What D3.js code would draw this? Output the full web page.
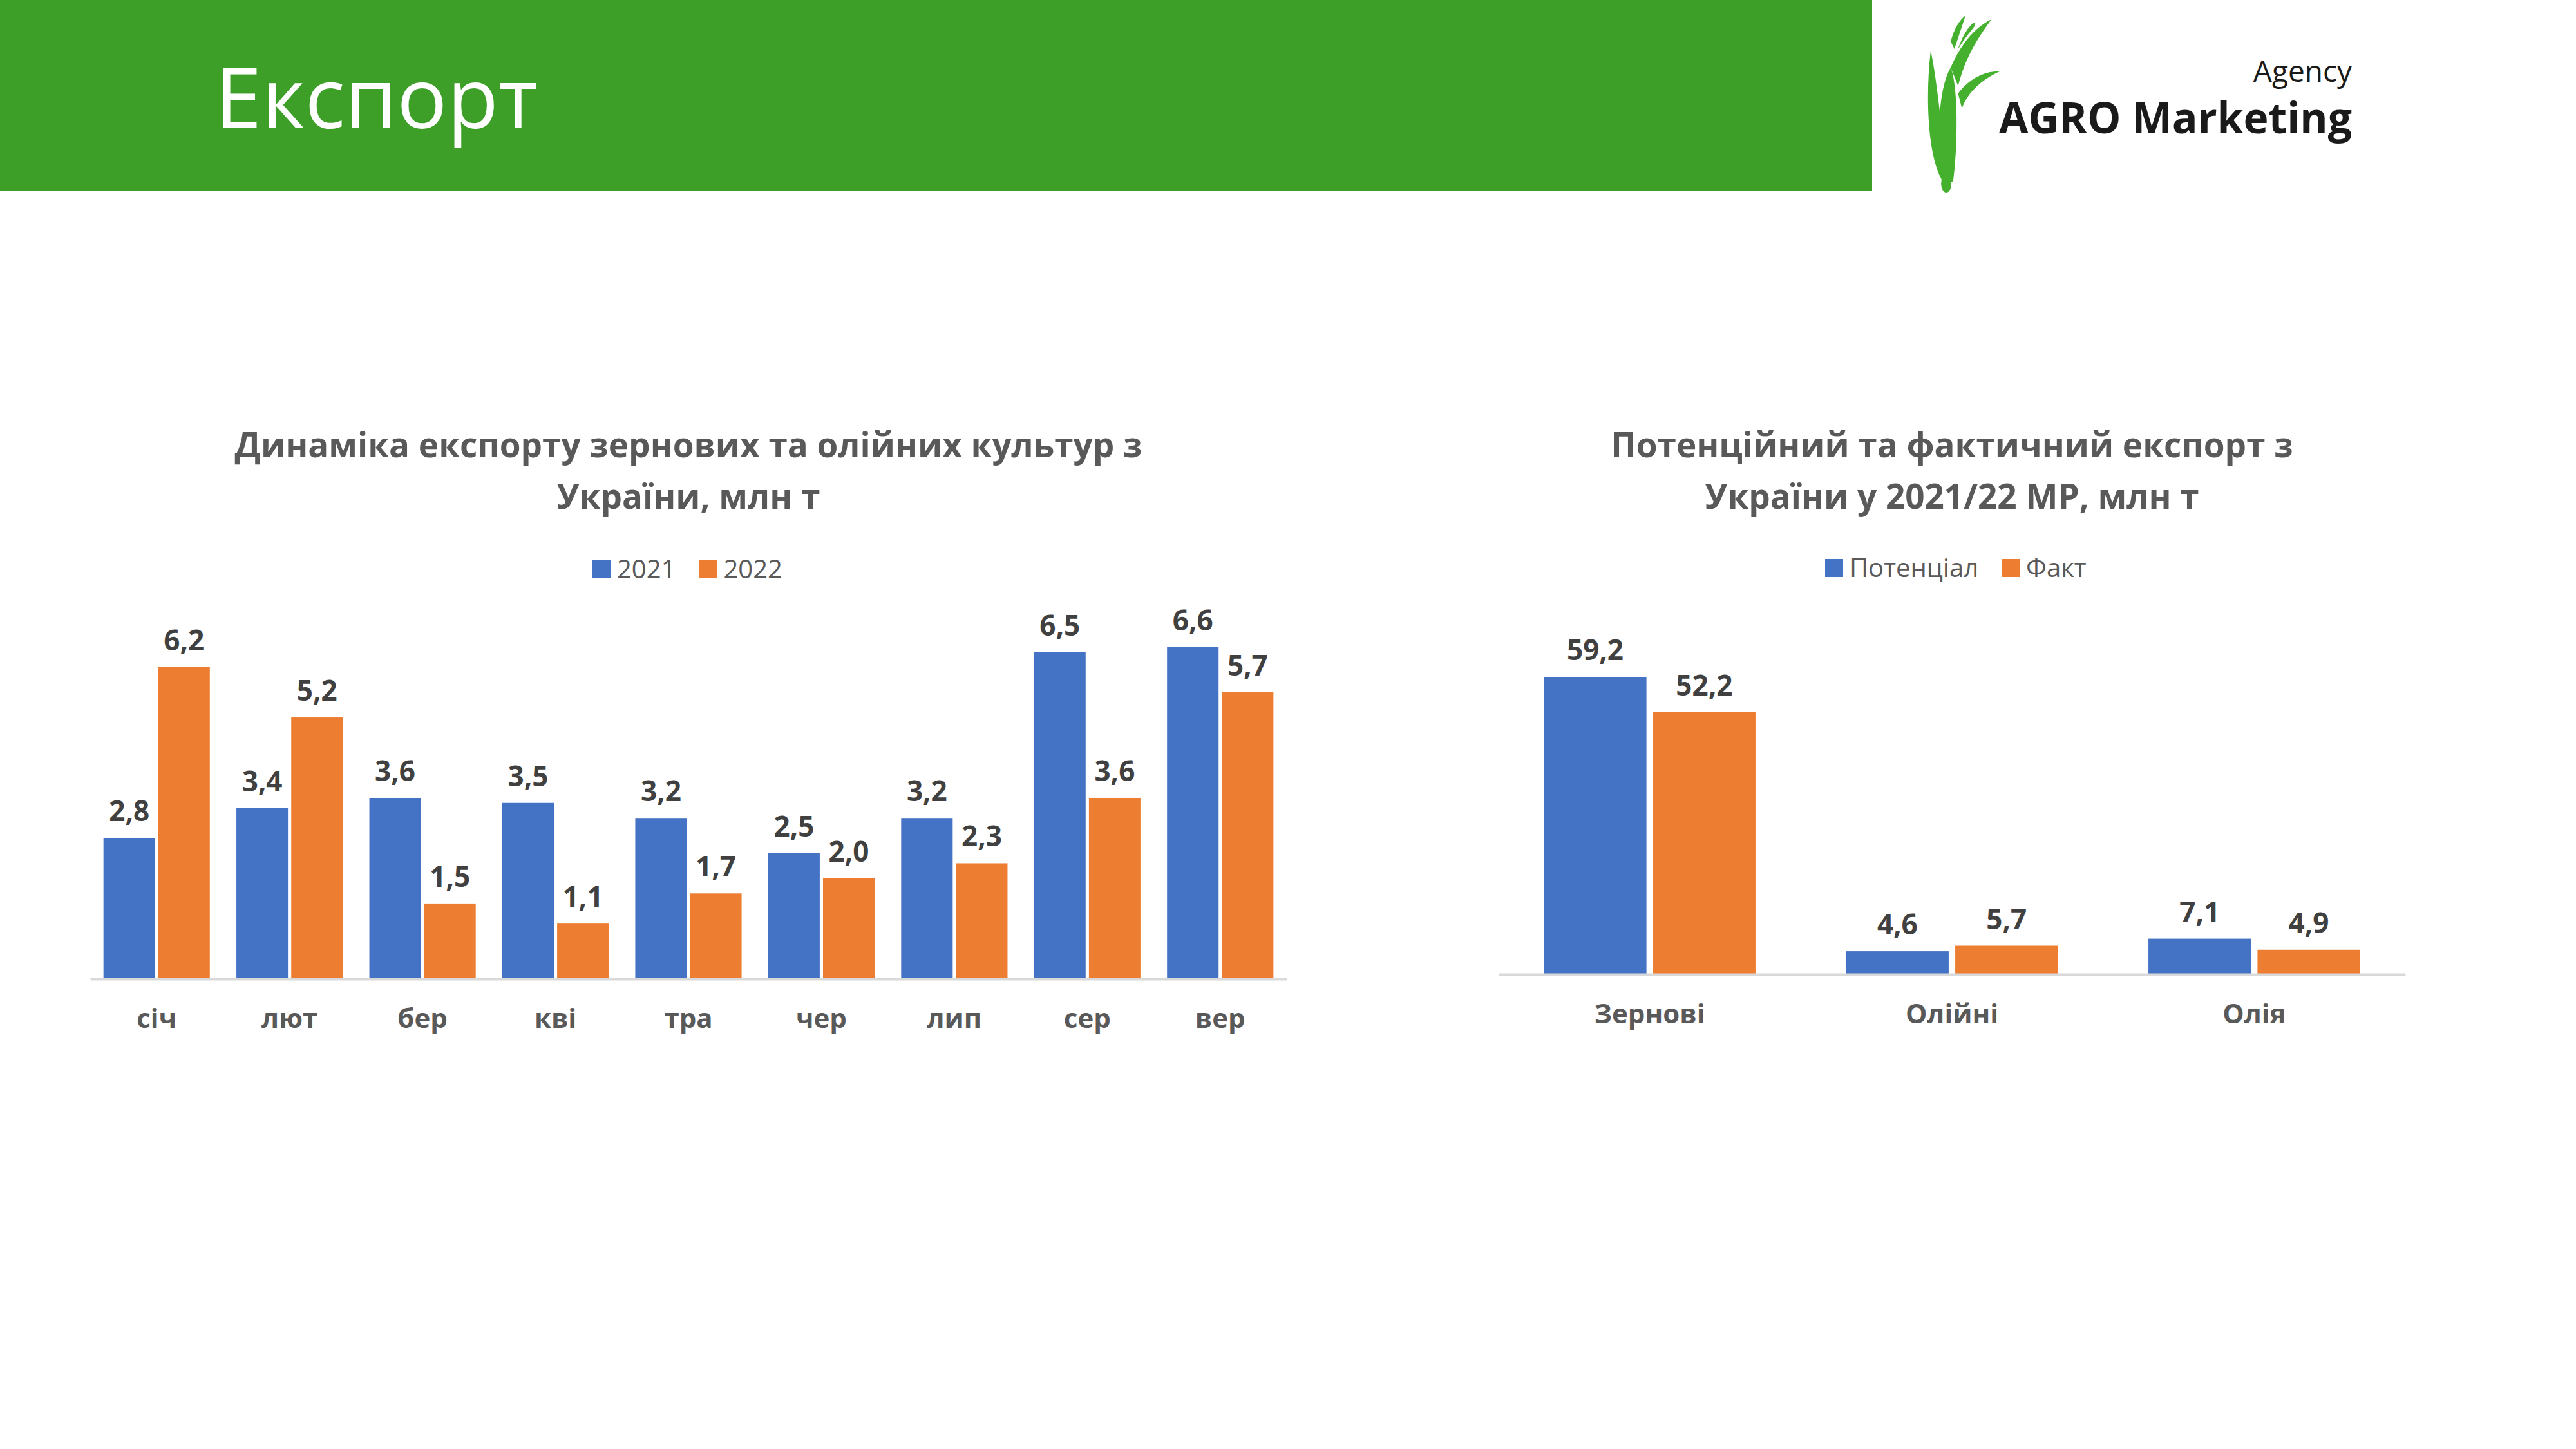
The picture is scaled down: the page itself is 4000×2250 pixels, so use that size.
<!DOCTYPE html>
<html><head><meta charset="utf-8">
<script src="https://cdn.jsdelivr.net/npm/d3@7"></script>
<style>body{margin:0;background:#fff}svg{display:block}</style>
</head><body>
<svg id="c" width="4000" height="2250"></svg>
<script>
const months = ["січ","лют","бер","кві","тра","чер","лип","сер","вер"];
const v2021 = [2.8,3.4,3.6,3.5,3.2,2.5,3.2,6.5,6.6];
const v2022 = [6.2,5.2,1.5,1.1,1.7,2.0,2.3,3.6,5.7];
const cats2 = ["Зернові","Олійні","Олія"];
const potential = [59.2,4.6,7.1];
const fact = [52.2,5.7,4.9];
const BLUE="#4472C4", ORANGE="#ED7D31", TXT="#595959";
const F="'Open Sans','Noto Sans',sans-serif";
const fmt = d => d.toFixed(1).replace(".", ",");
const svg = d3.select("#c");

// header
svg.append("rect").attr("x",0).attr("y",0).attr("width",2907).attr("height",296).attr("fill","#3D9F28");
svg.append("text").attr("x",334).attr("y",199).attr("fill","#fff").attr("font-family",F).attr("font-size",130).text("Експорт");
// logo
const lg = svg.append("g").attr("fill","#44B02E").attr("transform","translate(2998,30) scale(1.15) translate(-2948,-30)");
lg.append("path").attr("d","M2948,72 C2940,140 2945,220 2965,250 L2978,250 C2962,200 2960,130 2948,72 Z");
lg.append("path").attr("d","M2963,250 C2955,180 2960,120 2975,95 C2985,120 2985,200 2978,250 Z");
lg.append("path").attr("d","M2975,95 C2990,60 3010,40 3030,30 C3012,55 2995,80 2985,120 Z");
lg.append("path").attr("d","M2985,130 C3000,110 3020,100 3042,100 C3020,110 3000,125 2990,150 Z");
lg.append("path").attr("d","M2975,60 C2980,40 2990,28 2995,25 C2990,40 2985,55 2980,70 Z");
lg.append("path").attr("d","M2985,70 C3000,45 3015,35 3005,35 C2995,45 2990,55 2983,75 Z");
lg.append("ellipse").attr("cx",2969).attr("cy",252).attr("rx",7).attr("ry",12);
svg.append("text").attr("x",3652).attr("y",127).attr("text-anchor","end").attr("font-family",F).attr("font-size",46).attr("fill","#1a1a1a").text("Agency");
svg.append("text").attr("x",3652).attr("y",207).attr("text-anchor","end").attr("font-family",F).attr("font-weight",700).attr("font-size",66).attr("fill","#1a1a1a").text("AGRO Marketing");

function chart(o){
  const g = svg.append("g");
  const x0 = d3.scaleBand().domain(o.cats).range([o.x1,o.x2]).paddingInner(o.pi).paddingOuter(o.po);
  const x1 = d3.scaleBand().domain([0,1]).range([0,x0.bandwidth()]).paddingInner(o.gap);
  const y = d3.scaleLinear().domain([0,o.max]).range([o.base,o.top]);
  const cx = (o.x1+o.x2)/2;
  o.title.forEach((t,i)=>g.append("text").attr("x",cx).attr("y",o.ty+i*80).attr("text-anchor","middle")
    .attr("font-family",F).attr("font-weight",700).attr("font-size",53).attr("fill",TXT).text(t));
  const lg = g.append("g").attr("font-family",F).attr("font-size",40).attr("fill",TXT);
  let lx = o.lx;
  o.names.forEach((n,i)=>{
    lg.append("rect").attr("x",lx).attr("y",o.ly-28).attr("width",28).attr("height",28).attr("fill",[BLUE,ORANGE][i]);
    const t = lg.append("text").attr("x",lx+38).attr("y",o.ly).text(n);
    lx += 38 + t.node().getComputedTextLength() + 36;
  });
  const series=[o.a,o.b];
  series.forEach((arr,si)=>{
    g.selectAll(null).data(arr).join("rect")
      .attr("x",(d,i)=>x0(o.cats[i])+x1(si)).attr("width",x1.bandwidth())
      .attr("y",d=>y(d)).attr("height",d=>o.base-y(d)).attr("fill",[BLUE,ORANGE][si]);
    g.selectAll(null).data(arr).join("text")
      .attr("x",(d,i)=>x0(o.cats[i])+x1(si)+x1.bandwidth()/2).attr("y",d=>y(d)-26)
      .attr("text-anchor","middle").attr("font-family",F).attr("font-weight",700).attr("font-size",44).attr("fill","#404040")
      .text(fmt);
  });
  const ax = g.append("g").attr("transform",`translate(0,${o.base})`).call(d3.axisBottom(x0).tickSize(0).tickPadding(46));
  ax.select(".domain").attr("stroke","#D9D9D9").attr("stroke-width",4);
  ax.selectAll("text").attr("font-family",F).attr("font-weight",700).attr("font-size",42).attr("fill",TXT).attr("dy","0.71em");
}
chart({cats:months,a:v2021,b:v2022,x1:140,x2:1998,pi:0.2,po:0.1,gap:0.06,max:6.2,base:1520,top:1036,
  title:["Динаміка експорту зернових та олійних культур з","України, млн т"],ty:710,names:["2021","2022"],lx:920,ly:898});
chart({cats:cats2,a:potential,b:fact,x1:2327,x2:3735,pi:0.3,po:0.15,gap:0.06,max:59.2,base:1513,top:1051,
  title:["Потенційний та фактичний експорт з","України у 2021/22 МР, млн т"],ty:710,names:["Потенціал","Факт"],lx:2834,ly:896});
</script>
</body></html>
